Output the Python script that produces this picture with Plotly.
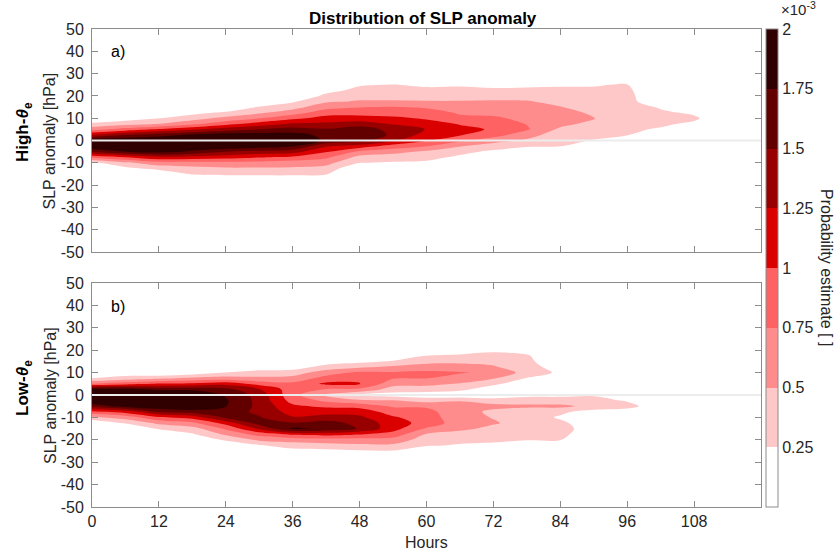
import numpy as np
import plotly.graph_objects as go
from plotly.subplots import make_subplots

# Lead time since genesis [h] and SLP anomaly bins [hPa]
hours = list(range(0, 121, 6))
slp_levels = [27.5, 25.0, 22.5, 20.0, 17.5, 15.0, 12.5, 10.0, 7.5, 5.0, 2.5, 0.0,
              -2.5, -5.0, -7.5, -10.0, -12.5, -15.0, -17.5, -20.0, -22.5, -25.0, -27.5]

# Probability estimate (x 1e-3), one profile per entry of `hours`, ordered as slp_levels
high_theta_e = [
    [0, 0, 0, 0, 0, 0, 0, 0, .30, .65, 1.25, 1.95, 2.0, 1.55, .80, .20, 0, 0, 0, 0, 0, 0, 0],          # 0 h
    [0, 0, 0, 0, 0, 0, 0, .12, .40, .85, 1.50, 2.0, 2.0, 1.75, 1.0, .45, .18, 0, 0, 0, 0, 0, 0],       # 6 h
    [0, 0, 0, 0, 0, 0, 0, .24, .50, 1.03, 1.65, 2.0, 2.0, 1.85, 1.20, .65, .35, 0, 0, 0, 0, 0, 0],     # 12 h
    [0, 0, 0, 0, 0, 0, .15, .40, .68, 1.20, 1.80, 2.0, 2.0, 1.70, 1.15, .66, .42, .28, 0, 0, 0, 0, 0],  # 18 h
    [0, 0, 0, 0, 0, 0, .30, .57, .90, 1.38, 1.90, 2.0, 2.0, 1.50, 1.10, .68, .47, .32, 0, 0, 0, 0, 0],  # 24 h
    [0, 0, 0, 0, 0, .27, .45, .73, 1.10, 1.50, 1.88, 2.0, 1.90, 1.42, 1.02, .66, .47, .33, 0, 0, 0, 0, 0],  # 30 h
    [0, 0, 0, 0, .22, .40, .63, .93, 1.28, 1.60, 1.85, 1.90, 1.78, 1.35, .95, .62, .47, .33, 0, 0, 0, 0, 0],  # 36 h
    [0, 0, .15, .32, .46, .66, .88, 1.10, 1.30, 1.52, 1.68, 1.72, 1.28, 1.02, .80, .58, .42, .27, 0, 0, 0, 0, 0],  # 42 h
    [0, .22, .33, .42, .52, .74, .90, 1.10, 1.38, 1.62, 1.70, 1.60, 1.15, .70, .42, .26, 0, 0, 0, 0, 0, 0, 0],  # 48 h
    [0, .26, .34, .42, .52, .76, .88, 1.05, 1.22, 1.42, 1.45, 1.28, .90, .58, .38, .22, 0, 0, 0, 0, 0, 0, 0],  # 54 h
    [0, .20, .32, .42, .51, .72, .85, .97, 1.10, 1.24, 1.15, 1.02, .76, .45, .33, .20, 0, 0, 0, 0, 0, 0, 0],  # 60 h
    [0, .22, .32, .42, .51, .65, .72, .80, .98, 1.08, 1.02, .80, .52, .32, .20, 0, 0, 0, 0, 0, 0, 0, 0],  # 66 h
    [0, .18, .30, .40, .53, .63, .70, .78, .88, .97, .85, .60, .38, .20, 0, 0, 0, 0, 0, 0, 0, 0, 0],     # 72 h
    [0, .20, .30, .40, .52, .60, .66, .70, .74, .78, .60, .46, .30, 0, 0, 0, 0, 0, 0, 0, 0, 0, 0],       # 78 h
    [0, .22, .30, .35, .42, .51, .60, .66, .58, .45, .36, .30, .26, 0, 0, 0, 0, 0, 0, 0, 0, 0, 0],       # 84 h
    [0, .24, .27, .32, .35, .40, .45, .51, .42, .33, .30, .24, 0, 0, 0, 0, 0, 0, 0, 0, 0, 0, 0],         # 90 h
    [0, .26, .30, .33, .36, .38, .40, .38, .34, .30, .26, .18, 0, 0, 0, 0, 0, 0, 0, 0, 0, 0, 0],         # 96 h
    [0, 0, 0, 0, 0, .22, .30, .33, .30, .22, 0, 0, 0, 0, 0, 0, 0, 0, 0, 0, 0, 0, 0],                     # 102 h
    [0, 0, 0, 0, 0, 0, .20, .30, .20, 0, 0, 0, 0, 0, 0, 0, 0, 0, 0, 0, 0, 0, 0],                         # 108 h
    [0] * 23,                                                                                       # 114 h
    [0] * 23,                                                                                       # 120 h
]

low_theta_e = [
    [0, 0, 0, 0, 0, 0, 0, 0, .24, .74, 1.90, 2.0, 2.0, 1.60, .92, .45, 0, 0, 0, 0, 0, 0, 0],           # 0 h
    [0, 0, 0, 0, 0, 0, 0, .10, .35, .90, 1.85, 2.0, 2.0, 1.85, 1.10, .60, .28, 0, 0, 0, 0, 0, 0],      # 6 h
    [0, 0, 0, 0, 0, 0, 0, 0, .45, 1.02, 1.72, 2.0, 2.0, 1.95, 1.52, .95, .56, .28, 0, 0, 0, 0, 0],     # 12 h
    [0, 0, 0, 0, 0, 0, 0, .10, .55, 1.05, 1.70, 2.0, 2.0, 2.0, 1.62, 1.10, .70, .40, .22, 0, 0, 0, 0],  # 18 h
    [0, 0, 0, 0, 0, 0, 0, .26, .60, 1.15, 1.60, 1.72, 1.78, 1.76, 1.62, 1.55, 1.10, .80, .55, .30, 0, 0, 0],  # 24 h
    [0, 0, 0, 0, 0, 0, .10, .35, .55, .90, 1.27, 1.40, 1.42, 1.43, 1.45, 1.52, 1.62, 1.30, .85, .55, .22, 0, 0],  # 30 h
    [0, 0, 0, 0, 0, 0, .12, .38, .58, .82, .86, .83, .90, 1.05, 1.15, 1.27, 1.52, 1.80, 1.05, .60, .38, .15, 0],  # 36 h
    [0, 0, 0, 0, 0, .10, .35, .62, .85, 1.05, .74, .45, .70, .95, 1.15, 1.35, 1.60, 1.70, 1.10, .65, .40, .18, 0],  # 42 h
    [0, 0, 0, 0, 0, .18, .45, .80, .95, 1.01, .70, .22, .55, .92, 1.15, 1.30, 1.42, 1.48, 1.02, .65, .45, .22, 0],  # 48 h
    [0, 0, 0, 0, .05, .28, .55, .78, .77, .60, .38, .15, .52, .72, .88, 1.03, 1.12, 1.10, .90, .65, .45, .23, 0],  # 54 h
    [0, 0, 0, 0, .26, .42, .62, .80, .76, .57, .38, .10, .40, .72, .82, .88, .90, .72, .48, .38, .28, 0, 0],  # 60 h
    [0, 0, 0, .10, .30, .44, .60, .77, .66, .48, .30, .08, .48, .65, .60, .58, .62, .55, .42, .33, .22, 0, 0],  # 66 h
    [0, 0, 0, .20, .33, .45, .52, .70, .52, .30, .12, .05, .40, .56, .45, .49, .52, .45, .36, .30, .20, 0, 0],  # 72 h
    [0, 0, 0, .15, .28, .33, .38, .40, .24, .10, .02, .18, .38, .55, .36, .38, .42, .40, .34, .27, 0, 0, 0],  # 78 h
    [0, 0, 0, 0, 0, 0, .10, .20, .08, 0, 0, .20, .35, .56, .30, .22, .30, .32, .30, .26, 0, 0, 0],        # 84 h
    [0, 0, 0, 0, 0, 0, 0, 0, 0, 0, 0, .22, .36, .42, .15, 0, .10, .15, .12, 0, 0, 0, 0],                  # 90 h
    [0, 0, 0, 0, 0, 0, 0, 0, 0, 0, 0, .05, .22, .38, .05, 0, 0, 0, 0, 0, 0, 0, 0],                        # 96 h
    [0] * 23,                                                                                       # 102 h
    [0] * 23,                                                                                       # 108 h
    [0] * 23,                                                                                       # 114 h
    [0] * 23,                                                                                       # 120 h
]

# Filled-contour palette, one colour per 0.25e-3 band from 0 to 2e-3
level_colors = ["#FFFFFF", "#FFC8C8", "#FF8C8C", "#FF6262",
                "#DA0000", "#980000", "#620000", "#300000"]
colorbar_ticks = [0.25, 0.5, 0.75, 1.0, 1.25, 1.5, 1.75, 2.0]
colorbar_labels = ["0.25", "0.5", "0.75", "1", "1.25", "1.5", "1.75", "2"]
x_ticks = list(range(0, 109, 12))
y_ticks = list(range(-50, 51, 10))

FONT = "Liberation Sans, Arial, Helvetica, sans-serif"
TEXT = "#262626"
AXIS = "#8c8c8c"
FS = 16


def density_grid(profiles):
    z = np.array(profiles, dtype=float).T   # rows follow slp_levels
    return z[::-1]                          # ascending SLP for the contour


slp_axis = slp_levels[::-1]

scale = []
n = len(level_colors)
for i, c in enumerate(level_colors):
    scale.append([i / n, c])
    scale.append([(i + 1) / n, c])

fig = make_subplots(rows=2, cols=1, vertical_spacing=0.065)

contour_style = dict(
    x=hours, y=slp_axis, zmin=0, zmax=2, zauto=False, autocontour=False,
    contours=dict(start=0.25, end=1.75, size=0.25, coloring="fill", showlines=False),
    line=dict(width=0), colorscale=scale, hoverinfo="skip",
)

fig.add_trace(go.Contour(
    z=density_grid(high_theta_e), showscale=True,
    colorbar=dict(
        x=1.0075, xanchor="left", y=0.5, yanchor="middle",
        len=1, lenmode="fraction", thickness=12, thicknessmode="pixels",
        xpad=0, ypad=0, outlinewidth=1, outlinecolor=AXIS,
        tickvals=colorbar_ticks, ticktext=colorbar_labels, ticks="",
        tickfont=dict(family=FONT, size=FS, color=TEXT),
    ),
    **contour_style), row=1, col=1)

fig.add_trace(go.Contour(z=density_grid(low_theta_e), showscale=False, **contour_style),
              row=2, col=1)

axis_style = dict(
    showline=True, linecolor=AXIS, linewidth=1, mirror="allticks",
    ticks="inside", ticklen=6, tickcolor=AXIS, showgrid=False, zeroline=False,
    tickfont=dict(family=FONT, size=FS, color=TEXT),
)
fig.update_xaxes(range=[0, 120], tickvals=x_ticks, **axis_style)
fig.update_xaxes(showticklabels=False, row=1, col=1)
fig.update_yaxes(range=[-50, 50], tickvals=y_ticks, ticktext=[str(v) for v in y_ticks],
                 ticklabelstandoff=4, **axis_style)
fig.update_yaxes(domain=[0.5335, 1.0], row=1, col=1)
fig.update_yaxes(domain=[0.0, 0.4686], row=2, col=1)

# Zero-anomaly reference line in both panels
for r in (1, 2):
    fig.add_hline(y=0, line=dict(color="#ececec", width=2), row=r, col=1)

ann = []
ann.append(dict(text="<b>Distribution of SLP anomaly</b>", x=0.4948, y=1.023,
                font=dict(size=17, color="black")))
ann.append(dict(text="a)", x=0.026, y=0.952, xanchor="left", font=dict(size=FS, color="black")))
ann.append(dict(text="b)", x=0.026, y=0.419, xanchor="left", font=dict(size=FS, color="black")))
for yc in (0.7667, 0.2343):
    ann.append(dict(text="SLP anomaly [hPa]", x=-0.0628, y=yc, textangle=-90,
                    font=dict(size=FS, color=TEXT)))
ann.append(dict(text="<b>High-<i>θ</i><sub>e</sub></b>", x=-0.1016, y=0.7845, textangle=-90,
                font=dict(size=17, color="black")))
ann.append(dict(text="<b>Low-<i>θ</i><sub>e</sub></b>", x=-0.1016, y=0.249, textangle=-90,
                font=dict(size=17, color="black")))
ann.append(dict(text="Hours", x=0.5, y=-0.0753, font=dict(size=FS, color=TEXT)))
ann.append(dict(text="×10<sup>-3</sup>", x=1.0555, y=1.0185, yanchor="bottom",
                font=dict(size=15, color=TEXT)))
ann.append(dict(text="Probability estimate [ ]", x=1.0987, y=0.502, textangle=90,
                font=dict(size=FS, color=TEXT)))
for a in ann:
    a.setdefault("xanchor", "center")
    a.setdefault("yanchor", "middle")
    a.update(xref="paper", yref="paper", showarrow=False)
    a["font"]["family"] = FONT

fig.update_layout(
    width=835, height=554,
    margin=dict(l=92, r=74, t=29, b=47),
    paper_bgcolor="white", plot_bgcolor="white",
    font=dict(family=FONT, color=TEXT),
    showlegend=False,
    annotations=ann,
)

fig.write_html("out.html")
